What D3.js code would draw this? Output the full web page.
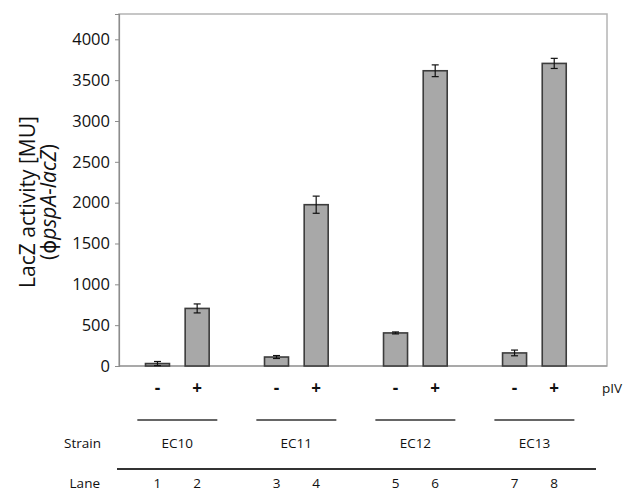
<!DOCTYPE html>
<html>
<head>
<meta charset="utf-8">
<script src="https://cdn.jsdelivr.net/npm/d3@7"></script>
<style>
  body { margin: 0; background: #fff; }
  text { font-family: "Open Sans", "DejaVu Sans", sans-serif; fill: #111; }
</style>
</head>
<body>
<svg id="chart" width="638" height="493"></svg>
<script>
// data
const lanes = ["1", "2", "3", "4", "5", "6", "7", "8"];
const slots = [0, 1, 3, 4, 6, 7, 9, 10];          // spacing slot of each lane
const piv = ["-", "+", "-", "+", "-", "+", "-", "+"];
const strains = ["EC10", "EC11", "EC12", "EC13"];
const values = [30, 705, 110, 1975, 405, 3615, 160, 3705];
const errors = [25, 55, 18, 105, 12, 72, 35, 62];
const yTicks = [0, 500, 1000, 1500, 2000, 2500, 3000, 3500, 4000];

const svg = d3.select("#chart");
const margin = {top: 14, right: 31, bottom: 127, left: 119};
const width = 638 - margin.left - margin.right;
const height = 493 - margin.top - margin.bottom;

const x = d3.scaleLinear().domain([-0.97, 11.33]).range([0, width]);
const y = d3.scaleLinear().domain([0, 4310]).range([height, 0]);
const barW = 24;

const g = svg.append("g").attr("transform", `translate(${margin.left},${margin.top})`);

// frame
g.append("rect")
  .attr("x", 0).attr("y", 0)
  .attr("width", width).attr("height", height)
  .attr("fill", "none").attr("stroke", "#b4b4b4").attr("stroke-width", 1.5);

// y axis
const yAxis = d3.axisLeft(y).tickValues(yTicks).tickFormat(d3.format("d")).tickSize(4).tickPadding(5);
const yg = g.append("g").call(yAxis);
yg.select(".domain").attr("stroke", "#8c8c8c").attr("stroke-width", 1.2);
yg.selectAll(".tick line").attr("stroke", "#8c8c8c");
yg.selectAll(".tick text").attr("font-size", "16.5px").attr("fill", "#111")
  .attr("font-weight", 500)
  .style("font-family", "'Open Sans', sans-serif");

// baseline
g.append("line")
  .attr("x1", 0).attr("x2", width)
  .attr("y1", y(0)).attr("y2", y(0))
  .attr("stroke", "#8c8c8c").attr("stroke-width", 1.2);

// y label
const ylab = g.append("text")
  .attr("transform", `translate(${-84},${height / 2 + 12}) rotate(-90)`)
  .attr("text-anchor", "middle")
  .attr("font-size", "21px");
ylab.append("tspan").attr("x", 0).attr("dy", 0).text("LacZ activity [MU]");
const l2 = ylab.append("tspan").attr("x", 0).attr("dy", "1.0em");
l2.append("tspan").text("(ϕ");
l2.append("tspan").attr("font-style", "italic").text("pspA-lacZ");
l2.append("tspan").text(")");

// bars
const data = lanes.map((d, i) => ({lane: d, slot: slots[i], v: values[i], e: errors[i], p: piv[i]}));

g.selectAll(".bar").data(data).enter().append("rect")
  .attr("class", "bar")
  .attr("x", d => x(d.slot) - barW / 2)
  .attr("y", d => y(d.v))
  .attr("width", barW)
  .attr("height", d => y(0) - y(d.v))
  .attr("fill", "#a8a8a8")
  .attr("stroke", "#3c3c3c")
  .attr("stroke-width", 1.6);

// error bars
const eb = g.selectAll(".err").data(data).enter().append("g").attr("class", "err")
  .attr("stroke", "#111").attr("stroke-width", 1.2);
eb.append("line")
  .attr("x1", d => x(d.slot)).attr("x2", d => x(d.slot))
  .attr("y1", d => y(d.v + d.e)).attr("y2", d => y(Math.max(0, d.v - d.e)));
eb.append("line")
  .attr("x1", d => x(d.slot) - 3.5).attr("x2", d => x(d.slot) + 3.5)
  .attr("y1", d => y(d.v + d.e)).attr("y2", d => y(d.v + d.e));
eb.append("line")
  .attr("x1", d => x(d.slot) - 3.5).attr("x2", d => x(d.slot) + 3.5)
  .attr("y1", d => y(Math.max(0, d.v - d.e))).attr("y2", d => y(Math.max(0, d.v - d.e)));

// pIV row
const below = svg.append("g").attr("transform", `translate(${margin.left},0)`);
below.selectAll(".pm").data(data).enter().append("text")
  .attr("x", d => x(d.slot))
  .attr("y", 394)
  .attr("text-anchor", "middle")
  .attr("font-size", "17px")
  .attr("font-weight", "bold")
  .text(d => d.p);
below.append("text")
  .attr("x", 483).attr("y", 393)
  .attr("font-size", "13.5px")
  .text("pIV");

// strain lines and labels
strains.forEach((s, i) => {
  const cx = (x(slots[2 * i]) + x(slots[2 * i + 1])) / 2;
  below.append("line")
    .attr("x1", cx - 40).attr("x2", cx + 40)
    .attr("y1", 420).attr("y2", 420)
    .attr("stroke", "#333").attr("stroke-width", 1.6);
  below.append("text")
    .attr("x", cx).attr("y", 448)
    .attr("text-anchor", "middle")
    .attr("font-size", "13.5px")
    .text(s);
});
below.append("text")
  .attr("x", -18).attr("y", 448)
  .attr("text-anchor", "end")
  .attr("font-size", "13.5px")
  .text("Strain");

// lane line and labels
below.append("line")
  .attr("x1", -2).attr("x2", 477)
  .attr("y1", 469).attr("y2", 469)
  .attr("stroke", "#333").attr("stroke-width", 1.8);
below.selectAll(".lane").data(data).enter().append("text")
  .attr("x", d => x(d.slot))
  .attr("y", 488)
  .attr("text-anchor", "middle")
  .attr("font-size", "13.5px")
  .text(d => d.lane);
below.append("text")
  .attr("x", -19).attr("y", 488)
  .attr("text-anchor", "end")
  .attr("font-size", "13.5px")
  .text("Lane");
</script>
</body>
</html>
